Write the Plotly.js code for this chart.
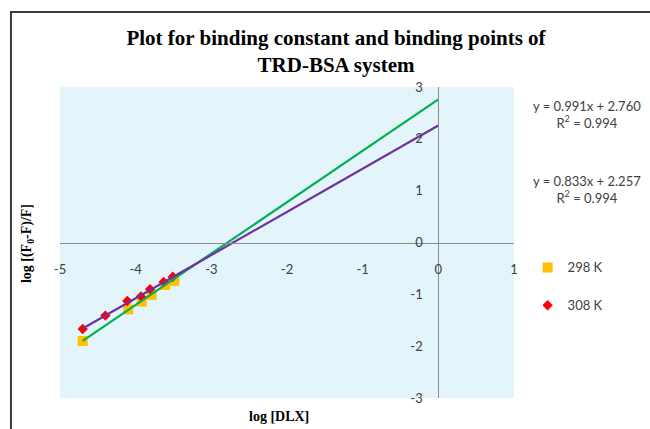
<!DOCTYPE html>
<html>
<head>
<meta charset="utf-8">
<script src="https://cdn.plot.ly/plotly-3.0.1.min.js"></script>
<style>
  html, body { margin: 0; padding: 0; background: #ffffff; }
  #chart { width: 650px; height: 429px; }
</style>
</head>
<body>
<div id="chart"></div>
<script>
// log [DLX] vs log [(F0-F)/F] at two temperatures
const seriesNames = ['298 K', '308 K'];

const x298 = [-4.70, -4.10, -3.92, -3.79, -3.61, -3.49];
const y298 = [-1.90, -1.29, -1.14, -1.01, -0.82, -0.74];

const x308 = [-4.70, -4.40, -4.11, -3.93, -3.81, -3.63, -3.51];
const y308 = [-1.67, -1.41, -1.13, -1.04, -0.90, -0.76, -0.66];

// linear fits (slope, intercept, R²) for 298 K and 308 K
const slopes = [0.991, 0.833];
const intercepts = [2.760, 2.257];
const r2 = [0.994, 0.994];

const xTicks = [-5, -4, -3, -2, -1, 0, 1];
const yTicks = [-3, -2, -1, 0, 1, 2, 3];

const labelFont = { family: 'Lato, "Liberation Sans", sans-serif', size: 13, color: '#404040' };
const serifBold = '"Liberation Serif", "Times New Roman", serif';

function fitLine(xs, i) {
  const x0 = Math.min.apply(null, xs);
  const x1 = 0;
  return {
    x: [x0, x1],
    y: [slopes[i] * x0 + intercepts[i], slopes[i] * x1 + intercepts[i]]
  };
}

const fit298 = fitLine(x298, 0);
const fit308 = fitLine(x308, 1);

const traces = [
  {
    x: x298, y: y298, name: seriesNames[0], type: 'scatter', mode: 'markers',
    legendgroup: 'a',
    marker: { symbol: 'square', size: 10, color: '#FFC000' }
  },
  {
    x: x308, y: y308, name: seriesNames[1], type: 'scatter', mode: 'markers',
    legendgroup: 'b',
    marker: { symbol: 'diamond', size: 8, color: '#FF0000' }
  },
  {
    x: fit298.x, y: fit298.y, type: 'scatter', mode: 'lines', showlegend: false,
    line: { color: '#00B050', width: 2.2 }, hoverinfo: 'skip'
  },
  {
    x: fit308.x, y: fit308.y, type: 'scatter', mode: 'lines', showlegend: false,
    line: { color: '#7030A0', width: 2.2 }, hoverinfo: 'skip'
  }
];

function eqText(i) {
  return 'y = ' + slopes[i].toFixed(3) + 'x + ' + intercepts[i].toFixed(3) +
         '<br>R<sup>2</sup> = ' + r2[i].toFixed(3);
}

const layout = {
  width: 650,
  height: 429,
  margin: { l: 60, r: 136, t: 87, b: 31, pad: 0 },
  paper_bgcolor: '#ffffff',
  plot_bgcolor: '#E3F5FA',
  showlegend: true,
  title: {
    text: '<b>Plot for binding constant and binding points of<br>TRD-BSA system</b>',
    font: { family: serifBold, size: 21, color: '#000000' },
    xref: 'container', yref: 'container',
    x: 0.517, xanchor: 'center',
    y: 0.895, yanchor: 'top'
  },
  xaxis: {
    range: [-5, 1],
    tickvals: xTicks,
    ticktext: xTicks.map(String),
    anchor: 'free',
    position: 0.5,
    showgrid: false,
    zeroline: false,
    showline: true,
    linecolor: '#8C8C8C',
    linewidth: 1,
    ticks: '',
    ticklabelstandoff: 15,
    tickfont: labelFont,
    fixedrange: true
  },
  yaxis: {
    range: [-3, 3],
    tickvals: yTicks,
    ticktext: yTicks.map(String),
    anchor: 'free',
    position: 5 / 6,
    showgrid: false,
    zeroline: false,
    showline: true,
    linecolor: '#8C8C8C',
    linewidth: 1,
    ticks: '',
    ticklabelstandoff: 13,
    tickfont: labelFont,
    fixedrange: true
  },
  legend: {
    x: 1.03, xanchor: 'left',
    y: 0.468, yanchor: 'top',
    bgcolor: 'rgba(0,0,0,0)',
    font: labelFont,
    traceorder: 'grouped',
    tracegroupgap: 18
  },
  annotations: [
    {
      text: eqText(0), xref: 'paper', yref: 'paper',
      x: 1.161, y: 0.913, xanchor: 'center', yanchor: 'middle',
      showarrow: false, align: 'center', font: labelFont
    },
    {
      text: eqText(1), xref: 'paper', yref: 'paper',
      x: 1.161, y: 0.672, xanchor: 'center', yanchor: 'middle',
      showarrow: false, align: 'center', font: labelFont
    },
    {
      text: '<b>log [DLX]</b>', xref: 'paper', yref: 'paper',
      x: 0.482, y: -0.058, xanchor: 'center', yanchor: 'middle',
      showarrow: false, font: { family: serifBold, size: 14, color: '#000000' }
    },
    {
      text: '<b>log [(F<sub>0</sub>-F)/F]</b>', xref: 'paper', yref: 'paper',
      x: -0.0727, y: 0.498, xanchor: 'center', yanchor: 'middle', textangle: -90,
      showarrow: false, font: { family: serifBold, size: 14, color: '#000000' }
    }
  ],
  shapes: [
    {
      // chart frame: left and top edges only
      type: 'path', xref: 'paper', yref: 'paper',
      path: 'M -0.108,-0.2 L -0.108,1.241 L 1.3,1.241',
      line: { color: '#3A3A3A', width: 2 },
      layer: 'above'
    }
  ]
};

Plotly.newPlot('chart', traces, layout, { displayModeBar: false, staticPlot: true });
</script>
</body>
</html>
